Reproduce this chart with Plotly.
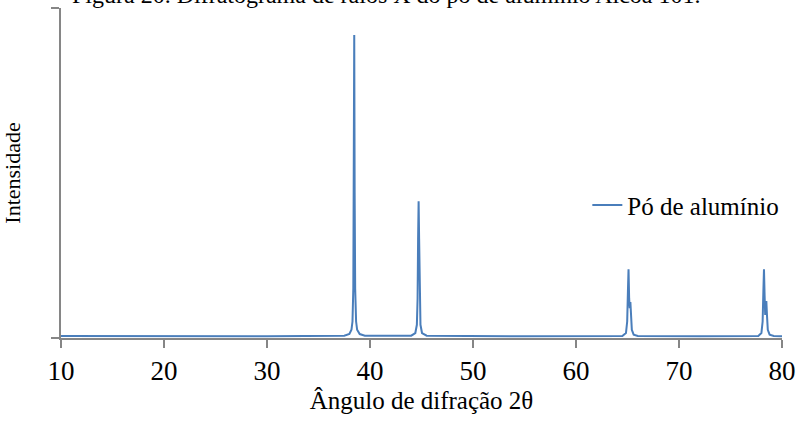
import plotly.graph_objects as go

# 2θ angles (degrees) and relative intensity
angle = [10, 20, 30, 37.5, 38.0, 38.2, 38.3, 38.38, 38.43, 38.47, 38.51, 38.56, 38.65, 38.75, 39.0, 39.5,
         44.0, 44.4, 44.55, 44.62, 44.67, 44.72, 44.77, 44.82, 44.9, 45.05, 45.5,
         55, 64.5, 64.85, 64.97, 65.04, 65.1, 65.16, 65.22, 65.28, 65.34, 65.42, 65.6, 66.0,
         72, 77.7, 78.0, 78.12, 78.19, 78.25, 78.31, 78.37, 78.43, 78.48, 78.54, 78.62, 78.8, 79.2, 80]
intensity = [0.006, 0.005, 0.005, 0.007, 0.012, 0.025, 0.05, 0.15, 0.44, 0.918, 0.44, 0.15, 0.05, 0.025, 0.012, 0.007,
             0.007, 0.015, 0.04, 0.12, 0.3, 0.414, 0.3, 0.12, 0.04, 0.015, 0.007,
             0.005, 0.006, 0.015, 0.05, 0.14, 0.208, 0.12, 0.09, 0.109, 0.07, 0.025, 0.01, 0.006,
             0.005, 0.006, 0.015, 0.05, 0.14, 0.208, 0.13, 0.07, 0.1, 0.112, 0.07, 0.025, 0.01, 0.006, 0.005]

series_name = "Pó de alumínio"
x_ticks = [10, 20, 30, 40, 50, 60, 70, 80]

FONT = "Liberation Serif"
AXIS = "#868686"

fig = go.Figure()
fig.add_trace(go.Scatter(x=angle, y=intensity, mode="lines", name=series_name,
                         line=dict(color="#4a7ebb", width=2)))

fig.update_layout(
    width=804, height=422,
    margin=dict(l=61, r=20, t=8, b=84),
    paper_bgcolor="white", plot_bgcolor="white",
    font=dict(family=FONT, color="black"),
    showlegend=True,
    legend=dict(x=0.730, y=0.402, xanchor="left", yanchor="middle",
                font=dict(family=FONT, size=25, color="black"),
                bgcolor="rgba(0,0,0,0)"),
    xaxis=dict(range=[10, 80], tickvals=x_ticks, showgrid=False, zeroline=False,
               showline=True, linecolor=AXIS, linewidth=1.5,
               ticks="outside", ticklen=8, tickcolor=AXIS, tickwidth=1.5,
               tickfont=dict(family=FONT, size=27, color="black"),
               title=dict(text="Ângulo de difração 2θ", font=dict(family=FONT, size=25, color="black"),
                          standoff=6)),
    yaxis=dict(range=[0, 1], tickvals=[0, 1], showticklabels=False, showgrid=False, zeroline=False,
               showline=True, linecolor=AXIS, linewidth=1.5,
               ticks="outside", ticklen=8, tickcolor=AXIS, tickwidth=1.5,
               title=dict(text="Intensidade", font=dict(family=FONT, size=22, color="black"),
                          standoff=28)),
)

fig.add_annotation(text="Figura 20. Difratograma de raios X do pó de alumínio Alcoa 101.",
                   xref="paper", yref="paper", x=0.451, y=0.995, xanchor="center", yanchor="bottom",
                   showarrow=False, font=dict(family=FONT, size=24, color="black"))

fig.write_html("out.html", config={"displayModeBar": False},
               post_script="document.body.style.margin='0';")
